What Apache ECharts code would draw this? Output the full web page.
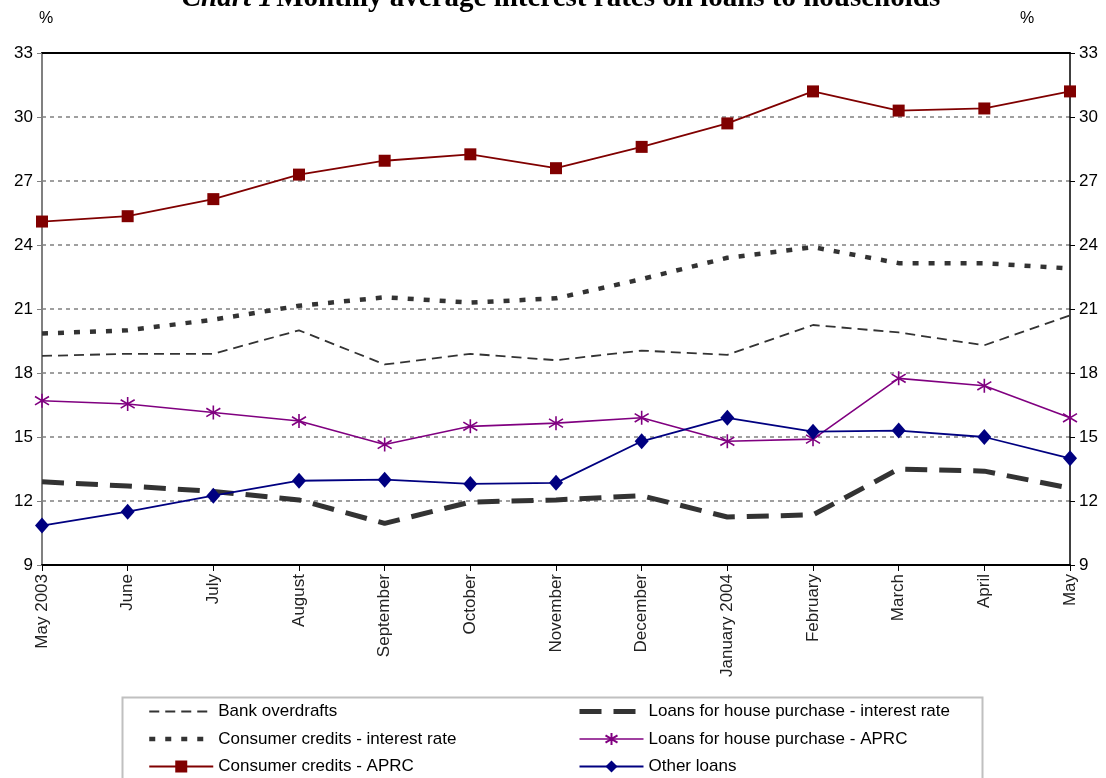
<!DOCTYPE html>
<html>
<head>
<meta charset="utf-8">
<script src="https://cdn.jsdelivr.net/npm/echarts@6/dist/echarts.min.js"></script>
<style>
  html, body { margin: 0; padding: 0; background: #fff; }
  #chart { width: 1106px; height: 778px; }
</style>
</head>
<body>
<div id="chart"></div>
<script>
// Months, May 2003 – May 2004
const months = ['May 2003', 'June', 'July', 'August', 'September', 'October', 'November',
  'December', 'January 2004', 'February', 'March', 'April', 'May'];

// Monthly average interest rates, %
const bankOverdrafts = [18.8, 18.9, 18.9, 20.0, 18.4, 18.9, 18.6, 19.05, 18.85, 20.25, 19.9, 19.3, 20.7];
const consumerRate   = [19.85, 20.0, 20.5, 21.15, 21.55, 21.3, 21.5, 22.4, 23.4, 23.9, 23.15, 23.15, 22.9];
const consumerAPRC   = [25.1, 25.35, 26.15, 27.3, 27.95, 28.25, 27.6, 28.6, 29.7, 31.2, 30.3, 30.4, 31.2];
const housingRate    = [12.9, 12.7, 12.45, 12.05, 10.95, 11.95, 12.05, 12.25, 11.25, 11.35, 13.5, 13.4, 12.6];
const housingAPRC    = [16.7, 16.55, 16.15, 15.75, 14.65, 15.5, 15.65, 15.9, 14.8, 14.9, 17.75, 17.4, 15.9];
const otherLoans     = [10.85, 11.5, 12.25, 12.95, 13.0, 12.8, 12.85, 14.8, 15.9, 15.25, 15.3, 15.0, 14.0];

const yTicks = { min: 9, max: 33, interval: 3 };

const FONT = '"Liberation Sans", Arial, sans-serif';
const SERIF = '"Liberation Serif", "Times New Roman", serif';
const asterisk = 'path://M10,0L10,20M1,4L19,16M1,16L19,4';
const NONE = 'rgba(0,0,0,0)';

const chart = echarts.init(document.getElementById('chart'), null, { renderer: 'canvas' });

const yAxisCommon = {
  type: 'value',
  min: yTicks.min, max: yTicks.max, interval: yTicks.interval,
  axisTick: { show: true, length: 5, lineStyle: { color: '#000', width: 1 } },
  axisLabel: { color: '#000', fontSize: 17, fontFamily: FONT, margin: 9 },
};

const legendCommon = {
  orient: 'vertical', top: 703, padding: 0,
  itemWidth: 64, itemHeight: 15, itemGap: 10.5,
  textStyle: { fontSize: 17, fontFamily: FONT, color: '#000' },
  lineStyle: { width: 'inherit' }
};

chart.setOption({
  animation: false,
  backgroundColor: '#fff',
  grid: { left: 42, right: 36, top: 53, bottom: 213, containLabel: false },
  graphic: [
    {
      type: 'text', x: 561, y: -1,
      style: {
        text: '{i|Chart 1} {b|Monthly average interest rates on loans to households}',
        textAlign: 'center', textVerticalAlign: 'middle',
        rich: {
          i: { fontFamily: SERIF, fontSize: 29, fontStyle: 'italic', fontWeight: 'bold', fill: '#000' },
          b: { fontFamily: SERIF, fontSize: 29, fontWeight: 'bold', fill: '#000' }
        }
      }
    },
    { type: 'text', x: 39, y: 11, style: { text: '%', fontFamily: FONT, fontSize: 16, fill: '#000' } },
    { type: 'text', x: 1020, y: 11, style: { text: '%', fontFamily: FONT, fontSize: 16, fill: '#000' } },
    {
      type: 'rect', z: -1,
      shape: { x: 122.5, y: 697.5, width: 860, height: 100 },
      style: { fill: '#fff', stroke: '#c0c0c0', lineWidth: 2 }
    }
  ],
  legend: [
    Object.assign({}, legendCommon, {
      left: 147,
      data: ['Bank overdrafts', 'Consumer credits - interest rate', 'Consumer credits - APRC']
    }),
    Object.assign({}, legendCommon, {
      left: 577,
      data: ['Loans for house purchase - interest rate', 'Loans for house purchase - APRC', 'Other loans']
    })
  ],
  xAxis: [
    {
      type: 'category', data: months, boundaryGap: false, position: 'bottom',
      axisLine: { lineStyle: { color: '#000', width: 2 } },
      axisTick: { show: true, length: 6, interval: 0, lineStyle: { color: '#000', width: 1 } },
      axisLabel: { rotate: 90, interval: 0, fontSize: 17, fontFamily: FONT, color: '#222', margin: 9 },
      splitLine: { show: false }
    },
    {
      type: 'category', data: months, boundaryGap: false, position: 'top',
      axisLine: { lineStyle: { color: '#000', width: 2 } },
      axisTick: { show: false }, axisLabel: { show: false }, splitLine: { show: false }
    }
  ],
  yAxis: [
    Object.assign({}, yAxisCommon, {
      position: 'left',
      axisLine: { show: true, lineStyle: { color: '#808080', width: 2 } },
      axisTick: { show: true, length: 5, lineStyle: { color: '#808080', width: 1 } },
      splitLine: { show: true, lineStyle: { color: '#808080', width: 1.5, type: [4, 4] } }
    }),
    Object.assign({}, yAxisCommon, {
      position: 'right',
      axisLine: { show: true, lineStyle: { color: '#000', width: 1.5 } },
      splitLine: { show: false }
    })
  ],
  series: [
    {
      name: 'Bank overdrafts', type: 'line', data: bankOverdrafts,
      symbol: 'none', clip: false,
      lineStyle: { color: '#333', width: 1.8, type: [10, 6] },
      itemStyle: { color: NONE, borderColor: NONE }
    },
    {
      name: 'Consumer credits - interest rate', type: 'line', data: consumerRate,
      symbol: 'none', clip: false,
      lineStyle: { color: '#333', width: 4.5, type: [6, 10] },
      itemStyle: { color: NONE, borderColor: NONE }
    },
    {
      name: 'Loans for house purchase - interest rate', type: 'line', data: housingRate,
      symbol: 'none', clip: false,
      lineStyle: { color: '#333', width: 5, type: [22, 12] },
      itemStyle: { color: NONE, borderColor: NONE }
    },
    {
      name: 'Consumer credits - APRC', type: 'line', data: consumerAPRC,
      symbol: 'rect', symbolSize: 12, clip: false,
      lineStyle: { color: '#800000', width: 1.8 },
      itemStyle: { color: '#800000' }
    },
    {
      name: 'Loans for house purchase - APRC', type: 'line', data: housingAPRC,
      symbol: asterisk, symbolSize: 14, clip: false,
      lineStyle: { color: '#800080', width: 1.6 },
      itemStyle: { color: NONE, borderColor: '#800080', borderWidth: 1.6 }
    },
    {
      name: 'Other loans', type: 'line', data: otherLoans,
      symbol: 'diamond', symbolSize: [14, 16], clip: false,
      lineStyle: { color: '#000080', width: 1.8 },
      itemStyle: { color: '#000080' }
    }
  ]
});
</script>
</body>
</html>
